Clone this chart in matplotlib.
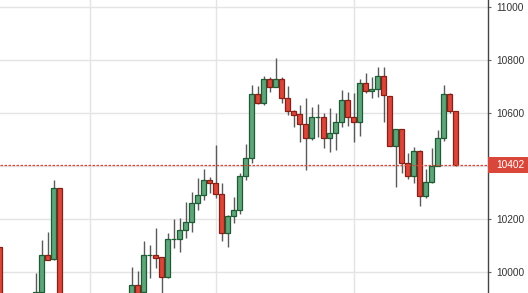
import numpy as np
import matplotlib
matplotlib.use("Agg")
import matplotlib.pyplot as plt
from matplotlib.patches import Rectangle

# candle index positions (hidden candles below the visible range are omitted)
idx = [0, 6, 7, 8, 9, 10,
       22, 23, 24, 25, 26, 27, 28, 29, 30, 31, 32, 33, 34, 35, 36, 37, 38, 39, 40,
       41, 42, 43, 44, 45, 46, 47, 48, 49, 50, 51, 52, 53, 54, 55, 56, 57, 58, 59,
       60, 61, 62, 63, 64, 65, 66, 67, 68, 69, 70, 71, 72, 73, 74, 75, 76]
opens = [10093, 9900, 9923, 10063, 10048, 10316,
         9900, 9950, 9923, 10063, 10063, 10055, 9980, 10123, 10123, 10157, 10187, 10259, 10289, 10346, 10335, 10293, 10146, 10210, 10233,
         10361, 10429, 10671, 10637, 10727, 10697, 10727, 10655, 10606, 10595, 10557, 10504, 10584, 10584, 10504, 10523, 10565, 10648, 10584,
         10565, 10712, 10682, 10689, 10738, 10663, 10474, 10538, 10410, 10361, 10455, 10286, 10340, 10399, 10504, 10671, 10606]
closes = [9880, 9923, 10063, 10044, 10316, 9900,
          9950, 9920, 10063, 10063, 10052, 9980, 10123, 10123, 10157, 10187, 10259, 10289, 10346, 10335, 10293, 10146, 10210, 10233, 10361,
          10429, 10671, 10637, 10727, 10697, 10727, 10655, 10606, 10591, 10557, 10504, 10584, 10584, 10504, 10523, 10565, 10648, 10584, 10565,
          10712, 10682, 10689, 10738, 10667, 10474, 10538, 10410, 10361, 10455, 10286, 10338, 10399, 10504, 10671, 10606, 10402]
highs = [10093, 9995, 10120, 10150, 10346, 10316,
         10018, 10003, 10116, 10101, 10165, 10055, 10146, 10199, 10203, 10263, 10301, 10354, 10388, 10357, 10478, 10335, 10215, 10282, 10372,
         10482, 10705, 10701, 10738, 10735, 10806, 10735, 10701, 10612, 10629, 10655, 10621, 10633, 10599, 10618, 10600, 10686, 10678, 10674,
         10727, 10750, 10735, 10772, 10772, 10663, 10538, 10540, 10448, 10470, 10460, 10388, 10467, 10535, 10705, 10675, 10606]
lows = [9860, 9880, 9923, 10044, 10044, 9890,
        9890, 9905, 9915, 9976, 10014, 9910, 9975, 10089, 10074, 10127, 10150, 10233, 10271, 10297, 10278, 10116, 10093, 10184, 10218,
        10346, 10410, 10633, 10629, 10678, 10697, 10637, 10591, 10546, 10489, 10384, 10497, 10508, 10467, 10452, 10459, 10546, 10550, 10489,
        10512, 10674, 10655, 10659, 10565, 10474, 10320, 10372, 10350, 10335, 10248, 10278, 10335, 10399, 10493, 10599, 10398]

last_price = 10402
y_ticks = [10000, 10200, 10400, 10600, 10800, 11000]
y_labels = ["10000", "10200", "", "10600", "10800", "11000"]
month_marks = [15, 36, 59]

plt.rcParams['font.family'] = ['Liberation Sans', 'DejaVu Sans']

W, H = 528, 293
fig = plt.figure(figsize=(W / 100, H / 100), dpi=100)
axw = 488 / W
ax = fig.add_axes([0, 0, axw, 1])

ax.set_xlim(0.08, 81.4)
ax.set_ylim(9919.5, 11025.3)

green_fill = "#5fa57a"
green_edge = "#1d5c33"
red_fill = "#d9473a"
red_edge = "#8a1e14"
wick_col = "#5a5a5a"
body_w = 0.72

for i, o, c, h, l in zip(idx, opens, closes, highs, lows):
    up = c >= o
    ax.vlines(i, l, h, color=wick_col, lw=1.0, zorder=2)
    bot = min(o, c)
    hgt = max(abs(c - o), 1.5)
    ax.add_patch(Rectangle((i - body_w / 2, bot), body_w, hgt,
                           facecolor=green_fill if up else red_fill,
                           edgecolor=green_edge if up else red_edge,
                           lw=0.9, zorder=3))

# grid
ax.set_yticks(y_ticks)
ax.set_xticks(month_marks)
ax.grid(True, color="#e4e4e4", lw=1.0, zorder=0)
ax.set_axisbelow(True)
ax.tick_params(axis='x', length=0, labelbottom=False)
ax.yaxis.tick_right()
ax.set_yticklabels(y_labels)
ax.tick_params(axis='y', length=2.4, width=0.8, color="#666666", pad=3.4,
               labelsize=7.3, labelcolor="#333333")

for s in ["top", "left", "bottom"]:
    ax.spines[s].set_visible(False)
ax.spines["right"].set_color("#444444")
ax.spines["right"].set_linewidth(1.0)

# last price line
ax.axhline(last_price, color="#d9473a", lw=0.9, ls=(0, (2, 1.2)), zorder=4)

# last price label box
box_h = 16 * (11025.3 - 9919.5) / H
ax.add_patch(Rectangle((1.0, last_price - box_h / 2), W / 488 - 1.0, box_h,
                       transform=ax.get_yaxis_transform(), clip_on=False,
                       facecolor="#d9473a", edgecolor="none", zorder=5))
ax.text(1.0 + 8 / 488, last_price, f"{last_price}", transform=ax.get_yaxis_transform(),
        color="white", fontsize=7.3, va="center", ha="left", zorder=6, clip_on=False)

fig.savefig("out.png", dpi=100)
